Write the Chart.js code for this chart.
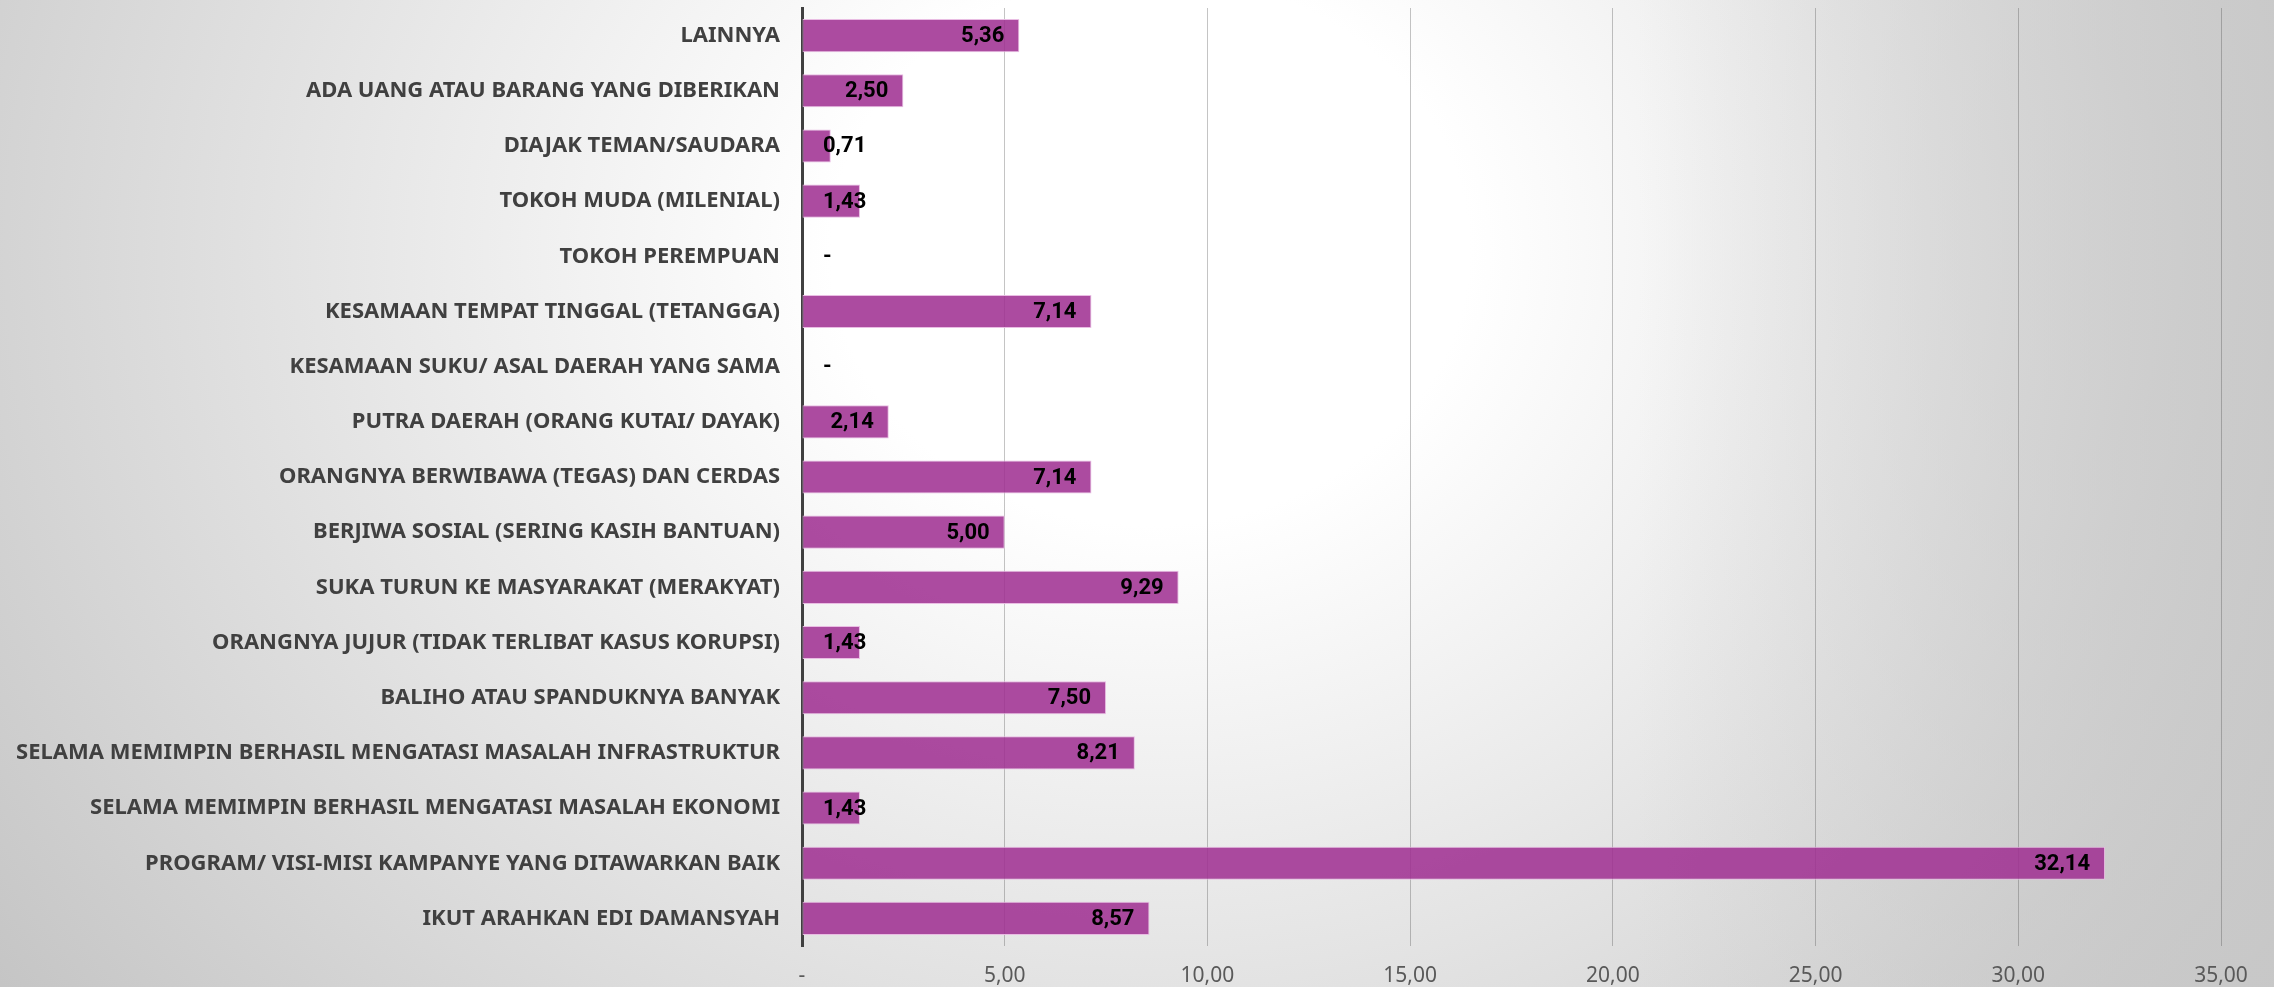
<!DOCTYPE html>
<html>
<head>
<meta charset="utf-8">
<script src="https://cdn.jsdelivr.net/npm/chart.js@4"></script>
<style>
  html, body { margin: 0; padding: 0; }
  body {
    width: 2274px; height: 987px; overflow: hidden;
    background:
      linear-gradient(to right, rgba(200,200,200,0) 72%, rgba(200,200,200,0.85) 100%),
      radial-gradient(ellipse 1450px 1250px at 1150px 250px, #ffffff 22%, #c4c4c4 100%);
  }
  #wrap { position: relative; width: 2274px; height: 987px; }
</style>
</head>
<body>
<div id="wrap"><canvas id="rankChart"></canvas></div>
<script>
const categories = [
    'LAINNYA',
    'ADA UANG ATAU BARANG YANG DIBERIKAN',
    'DIAJAK TEMAN/SAUDARA',
    'TOKOH MUDA (MILENIAL)',
    'TOKOH PEREMPUAN',
    'KESAMAAN TEMPAT TINGGAL (TETANGGA)',
    'KESAMAAN SUKU/ ASAL DAERAH YANG SAMA',
    'PUTRA DAERAH (ORANG KUTAI/ DAYAK)',
    'ORANGNYA BERWIBAWA (TEGAS) DAN CERDAS',
    'BERJIWA SOSIAL (SERING KASIH BANTUAN)',
    'SUKA TURUN KE MASYARAKAT (MERAKYAT)',
    'ORANGNYA JUJUR (TIDAK TERLIBAT KASUS KORUPSI)',
    'BALIHO ATAU SPANDUKNYA BANYAK',
    'SELAMA MEMIMPIN BERHASIL MENGATASI MASALAH INFRASTRUKTUR',
    'SELAMA MEMIMPIN BERHASIL MENGATASI MASALAH EKONOMI',
    'PROGRAM/ VISI-MISI KAMPANYE YANG DITAWARKAN BAIK',
    'IKUT ARAHKAN EDI DAMANSYAH'
];
const percentages = [5.36, 2.50, 0.71, 1.43, 0, 7.14, 0, 2.14, 7.14, 5.00, 9.29, 1.43, 7.50, 8.21, 1.43, 32.14, 8.57];
const xTicks = [0, 5, 10, 15, 20, 25, 30, 35];

const fmt = v => v === 0 ? '-' : v.toFixed(2).replace('.', ',');

// value labels: right-aligned inside the bar end, pushed out past the axis for short bars
const valueLabels = {
    id: 'valueLabels',
    afterDatasetsDraw(chart) {
        const ctx = chart.ctx;
        const left = chart.chartArea.left;
        ctx.save();
        ctx.font = 'bold 22px Roboto';
        ctx.fillStyle = '#000';
        ctx.textBaseline = 'middle';
        ctx.textAlign = 'left';
        chart.getDatasetMeta(0).data.forEach((bar, i) => {
            const txt = fmt(percentages[i]);
            const w = ctx.measureText(txt).width;
            let x = bar.x - 15 - w;
            if (x < left + 21) x = left + 21;
            ctx.fillText(txt, x, bar.y + 1);
        });
        ctx.restore();
    }
};

new Chart(document.getElementById('rankChart').getContext('2d'), {
    type: 'bar',
    data: {
        labels: categories,
        datasets: [{
            data: percentages,
            backgroundColor: 'rgba(160, 50, 147, 0.88)',
            borderColor: 'rgba(232, 185, 226, 0.95)',
            borderWidth: 1,
            borderSkipped: false,
            barPercentage: 0.6,
            categoryPercentage: 1
        }]
    },
    options: {
        indexAxis: 'y',
        responsive: true,
        maintainAspectRatio: false,
        animation: false,
        layout: { padding: { top: 8, right: 53, left: 0, bottom: 0 } },
        plugins: {
            legend: { display: false },
            tooltip: { enabled: false }
        },
        scales: {
            x: {
                min: 0,
                max: 35,
                afterBuildTicks: scale => { scale.ticks = xTicks.map(v => ({ value: v })); },
                grid: {
                    drawTicks: false,
                    lineWidth: 1,
                    color: ctx => ctx.tick && ctx.tick.value === 0 ? 'rgba(0,0,0,0)' : 'rgba(70,70,70,0.32)'
                },
                border: { display: false },
                ticks: {
                    padding: 17,
                    color: '#595959',
                    font: { family: 'Noto Sans', size: 21 },
                    callback: v => fmt(v),
                    maxRotation: 0
                },
                afterFit: scale => { scale.height = 41; scale.paddingLeft = 0; scale.paddingRight = 0; }
            },
            y: {
                grid: { display: false, drawTicks: false },
                border: { display: true, color: '#404040', width: 3 },
                ticks: {
                    padding: 22,
                    color: '#404040',
                    font: { family: 'Noto Sans', size: 22, weight: 'bold' },
                    autoSkip: false
                },
                afterFit: scale => { scale.width = 802; scale.paddingTop = 0; scale.paddingBottom = 0; }
            }
        }
    },
    plugins: [valueLabels]
});
</script>
</body>
</html>
